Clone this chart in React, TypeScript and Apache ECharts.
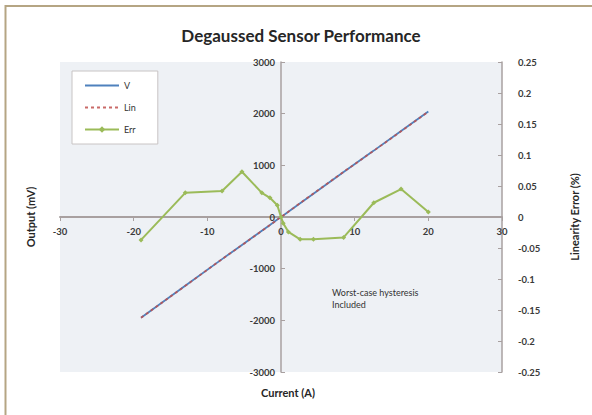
import React, { useEffect, useRef } from "react";
import * as echarts from "echarts";

const current = [-19, -13, -8, -5.3, -2.6, -1.5, -0.5, 0, 0.3, 1, 2.6, 4.4, 8.5, 12.6, 16.3, 20];
const outputV = [-1950, -1330, -815, -540, -265, -155, -50, 0, 30, 100, 265, 450, 870, 1285, 1665, 2040];
const linFit = [-1952, -1332, -817, -543, -267, -156, -51, 0, 31, 102, 268, 453, 873, 1283, 1661, 2039];
const linErr = [-0.037, 0.039, 0.042, 0.073, 0.039, 0.031, 0.019, 0, -0.01, -0.024, -0.036, -0.036, -0.033, 0.023, 0.045, 0.008];

const FONT = "Lato";

const GRID_LEFT = 60;
const GRID_RIGHT = 90;
const GRID_TOP = 62;
const GRID_BOTTOM = 43;
const W = 592;
const H = 415;

export default function App() {
  const ref = useRef<HTMLDivElement>(null);
  useEffect(() => {
    if (!ref.current) return;
    const chart = echarts.init(ref.current, undefined, { renderer: "svg" });
    const axisCol = "#a8a0a0";
    const labelStyle = { fontSize: 9.5, color: "#3a3a3a", fontFamily: FONT, fontWeight: "bold" as const };
    const plotW = W - GRID_LEFT - GRID_RIGHT;
    const plotH = H - GRID_TOP - GRID_BOTTOM;
    chart.setOption({
      animation: false,
      backgroundColor: "#ffffff",
      title: {
        text: "Degaussed Sensor Performance",
        left: 296,
        textAlign: "center",
        top: 22,
        textStyle: { fontSize: 17, fontWeight: "bold", color: "#262626", fontFamily: FONT },
      },
      grid: {
        left: GRID_LEFT,
        right: GRID_RIGHT,
        top: GRID_TOP,
        bottom: GRID_BOTTOM,
        show: true,
        backgroundColor: "#eef1f5",
        borderWidth: 0,
      },
      legend: {
        orient: "vertical",
        left: 72,
        top: 71,
        itemWidth: 34,
        itemHeight: 8,
        itemGap: 13,
        backgroundColor: "#ffffff",
        borderColor: "#c8c4c4",
        borderWidth: 1,
        padding: [10, 22, 10, 12],
        textStyle: { fontSize: 9, color: "#333", fontFamily: FONT },
        data: [
          { name: "V", itemStyle: { opacity: 0 } },
          { name: "Lin", itemStyle: { opacity: 0 } },
          { name: "Err" },
        ],
      },
      xAxis: {
        type: "value",
        position: "bottom",
        min: -30,
        max: 30,
        interval: 10,
        offset: -plotH / 2,
        axisLine: { onZero: false, lineStyle: { color: axisCol, width: 2 } },
        axisTick: { show: true, length: 4, lineStyle: { color: axisCol } },
        axisLabel: { ...labelStyle, margin: 9, formatter: (v: number) => String(v) },
        splitLine: { show: false },
      },
      yAxis: [
        {
          type: "value",
          position: "left",
          min: -3000,
          max: 3000,
          interval: 1000,
          offset: -plotW / 2,
          axisLine: { show: true, onZero: false, lineStyle: { color: axisCol, width: 1.5 } },
          axisTick: { show: true, length: 4, inside: true, lineStyle: { color: axisCol } },
          axisLabel: { ...labelStyle, margin: 6, formatter: (v: number) => String(v) },
          splitLine: { show: false },
        },
        {
          type: "value",
          position: "right",
          min: -0.25,
          max: 0.25,
          interval: 0.05,
          axisLine: { show: true, onZero: false, lineStyle: { color: axisCol, width: 1.5 } },
          axisTick: { show: true, length: 4, inside: true, lineStyle: { color: axisCol } },
          axisLabel: { ...labelStyle, margin: 16, formatter: (v: number) => String(Math.round(v * 100) / 100) },
          splitLine: { show: false },
        },
      ],
      series: [
        {
          name: "V",
          type: "line",
          data: current.map((c, i) => [c, outputV[i]]),
          showSymbol: false,
          symbol: "none",
          lineStyle: { color: "#4f81bd", width: 1.8 },
          itemStyle: { color: "#4f81bd" },
          z: 2,
        },
        {
          name: "Lin",
          type: "line",
          data: current.map((c, i) => [c, linFit[i]]),
          showSymbol: false,
          symbol: "none",
          lineStyle: { color: "#c0504d", width: 1.8, type: [3, 3], opacity: 0.85 },
          itemStyle: { color: "#c0504d" },
          z: 3,
        },
        {
          name: "Err",
          type: "line",
          yAxisIndex: 1,
          data: current.map((c, i) => [c, linErr[i]]),
          symbol: "diamond",
          symbolSize: 5,
          lineStyle: { color: "#9bbb59", width: 2 },
          itemStyle: { color: "#9bbb59" },
          z: 4,
        },
      ],
      graphic: [
        {
          type: "rect",
          shape: { x: 5.5, y: 6, width: 700, height: 500 },
          style: { fill: "none", stroke: "#b5a583", lineWidth: 2 },
          silent: true,
        },
        {
          type: "text",
          x: 30,
          y: 217,
          rotation: Math.PI / 2,
          style: {
            text: "Output (mV)",
            fontSize: 11,
            fontWeight: "bold",
            fontFamily: FONT,
            fill: "#262626",
            align: "center",
            verticalAlign: "middle",
          },
        },
        {
          type: "text",
          x: 574,
          y: 217,
          rotation: Math.PI / 2,
          style: {
            text: "Linearity Error (%)",
            fontSize: 11,
            fontWeight: "bold",
            fontFamily: FONT,
            fill: "#262626",
            align: "center",
            verticalAlign: "middle",
          },
        },
        {
          type: "text",
          x: 288,
          y: 392,
          style: {
            text: "Current (A)",
            fontSize: 11,
            fontWeight: "bold",
            fontFamily: FONT,
            fill: "#262626",
            align: "center",
            verticalAlign: "middle",
          },
        },
        {
          type: "text",
          x: 332,
          y: 286,
          style: {
            text: "Worst-case hysteresis\nIncluded",
            fontSize: 9,
            lineHeight: 12,
            fontFamily: FONT,
            fill: "#333",
            align: "left",
            verticalAlign: "top",
          },
        },
      ],
    });
    return () => chart.dispose();
  }, []);
  return (
    <div
      ref={ref}
      style={{ position: "fixed", left: 0, top: 0, width: W, height: H }}
    />
  );
}
